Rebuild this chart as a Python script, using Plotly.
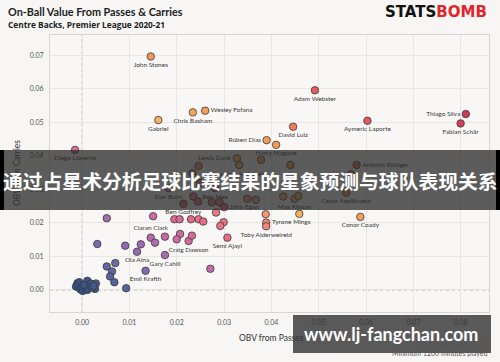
import plotly.graph_objects as go

# ---------------- data ----------------
players = [
    "John Stones", "Gabriel", "Diego Llorente", "Adam Webster", "Chris Basham",
    "Wesley Fofana", "David Luiz", "Rúben Dias", "Harry Maguire", "Lewis Dunk",
    "Aymeric Laporte", "Thiago Silva", "Fabian Schär", "Antonio Rüdiger",
    "Joachim Andersen", "Dan Burn", "Ben Mee", "César Azpilicueta", "Max Kilman",
    "John Egan", "Ben Godfrey", "Tyrone Mings", "Toby Alderweireld", "Conor Coady",
    "Ciaran Clark", "Craig Dawson", "Semi Ajayi", "Ola Aina", "Gary Cahill",
    "Emil Krafth",
    "", "", "", "", "", "", "", "", "", "",
    "", "", "", "", "", "", "", "", "", "",
    "", "", "", "", "", "", "", "", "", "",
    "", "", "", "", "", "", "", "", "", "",
    "", "", "", "", "", "", "", "", "", "",
    "", "", "", "", "", "",
]
obv_passes = [
    0.0145, 0.0161, -0.0015, 0.0492, 0.0234,
    0.0260, 0.0446, 0.0390, 0.0410, 0.0327,
    0.0603, 0.0811, 0.0800, 0.0580,
    0.0332, 0.0182, 0.0281, 0.0558, 0.0449,
    0.0300, 0.0214, 0.0389, 0.0389, 0.0588,
    0.0145, 0.0225, 0.0307, 0.0116, 0.0175,
    0.0134,
    0.0378, 0.0440, 0.0246, 0.0233, 0.0568, 0.0249, 0.0425, 0.0457, 0.0349, 0.0367,
    0.0274, 0.0290, 0.0235, 0.0245, 0.0283, 0.0195, 0.0206, 0.0230, 0.0246, 0.0256,
    0.0299, 0.0292, 0.0388, 0.0459, 0.0207, 0.0232, 0.0200, 0.0052, 0.0150, 0.0154,
    0.0175, 0.0032, 0.0091, 0.0124, 0.0052, 0.0070, 0.0063, 0.0059, 0.0068, 0.0093,
    0.0271, -0.0010, -0.0006, 0.0011, 0.0018, 0.0029, 0.0027, -0.0013, -0.0004, 0.0006,
    0.0015, 0.0001, 0.0011, 0.0021, 0.0004, 0.0024,
]
obv_carries = [
    0.0697, 0.0507, 0.0418, 0.0596, 0.0530,
    0.0535, 0.0487, 0.0447, 0.0433, 0.0393,
    0.0505, 0.0525, 0.0497, 0.0373,
    0.0373, 0.0304, 0.0304, 0.0290, 0.0272,
    0.0247, 0.0257, 0.0201, 0.0190, 0.0218,
    0.0156, 0.0146, 0.0156, 0.0114, 0.0104,
    0.0057,
    0.0388, 0.0373, 0.0370, 0.0348, 0.0345, 0.0319, 0.0279, 0.0281, 0.0272, 0.0269,
    0.0262, 0.0262, 0.0279, 0.0264, 0.0231, 0.0211, 0.0211, 0.0211, 0.0211, 0.0204,
    0.0202, 0.0191, 0.0226, 0.0227, 0.0167, 0.0162, 0.0151, 0.0214, 0.0220, 0.0141,
    0.0159, 0.0137, 0.0132, 0.0136, 0.0070, 0.0080, 0.0055, 0.0040, 0.0023, 0.0005,
    0.0063, 0.0020, 0.0023, 0.0027, 0.0019, 0.0019, 0.0003, 0.0010, 0.0002, 0.0005,
    0.0009, -0.0003, 0.0000, 0.0007, 0.0015, 0.0012,
]

x_ticks = [0.00, 0.01, 0.02, 0.03, 0.04, 0.05, 0.06, 0.07, 0.08]
y_ticks = [0.00, 0.01, 0.02, 0.03, 0.04, 0.05, 0.06, 0.07]

# ---------------- styles ----------------
label_side = {
    "Wesley Fofana": "middle right", "Rúben Dias": "middle left",
    "Lewis Dunk": "middle left", "Thiago Silva": "middle left",
    "Antonio Rüdiger": "middle right", "John Egan": "middle right",
    "Tyrone Mings": "middle right", "Ciaran Clark": "top center",
}
positions = [label_side.get(p, "bottom center") for p in players]
total = [a + b for a, b in zip(obv_passes, obv_carries)]

colorscale = [
    [0.00, "#34507f"], [0.10, "#6a6aa8"], [0.18, "#9c6cb0"], [0.25, "#cc6aa4"],
    [0.32, "#e56a8a"], [0.42, "#f2857a"], [0.48, "#f7b462"], [0.60, "#f29a58"],
    [0.70, "#ea6d58"], [0.78, "#e35a5c"], [1.00, "#cc2f5a"],
]

W, H = 500, 362
L, R, T, B = 50, 11, 35, 50
PW, PH = W - L - R, H - T - B


def px(x):
    return (x - L) / PW


def py(y):
    return (H - B - y) / PH


fig = go.Figure()
fig.add_trace(go.Scatter(
    x=obv_passes, y=obv_carries, mode="markers+text",
    text=players, textposition=positions,
    textfont=dict(family="Lato", size=6.5, color="#3a3a3a"),
    marker=dict(size=7.5, color=total, colorscale=colorscale, cmin=0, cmax=0.14,
                line=dict(color="#3a3a3a", width=0.8)),
    cliponaxis=False, hoverinfo="skip", showlegend=False,
))

axis_common = dict(
    showgrid=True, gridcolor="#e6e6e4", gridwidth=1,
    showline=True, mirror=True, linecolor="#d6d6d4", linewidth=1,
    zeroline=False, tickformat=".2f",
    tickfont=dict(family="Lato", size=7, color="#555555"),
    ticks="outside", tickcolor="rgba(0,0,0,0)", ticklen=4,
    automargin=False,
)
fig.update_xaxes(range=[-0.0068, 0.086], tickvals=x_ticks, **axis_common)
fig.update_yaxes(range=[-0.0066, 0.0761], tickvals=y_ticks, **axis_common)

shapes = [
    dict(type="line", xref="x", yref="paper", x0=0, x1=0, y0=0, y1=1,
         line=dict(color="#999999", width=1, dash="dot"), layer="below"),
    dict(type="line", xref="paper", yref="y", x0=0, x1=1, y0=0, y1=0,
         line=dict(color="#999999", width=1, dash="dot"), layer="below"),
    # banner
    dict(type="rect", xref="paper", yref="paper", x0=px(0), x1=px(500),
         y0=py(210), y1=py(150), fillcolor="rgba(40,40,40,0.75)",
         line=dict(width=0), layer="above"),
    dict(type="rect", xref="paper", yref="paper", x0=px(0), x1=px(4),
         y0=py(210), y1=py(150), fillcolor="#000000", line=dict(width=0), layer="above"),
    dict(type="rect", xref="paper", yref="paper", x0=px(496), x1=px(500),
         y0=py(210), y1=py(150), fillcolor="#000000", line=dict(width=0), layer="above"),
    # watermark box
    dict(type="rect", xref="paper", yref="paper", x0=px(293), x1=px(491),
         y0=py(353), y1=py(315), fillcolor="rgba(50,50,50,0.80)",
         line=dict(width=0), layer="above"),
]

ann = []


def add_text(text, x, y, size, color, family="Lato", xanchor="left", yanchor="middle",
             textangle=0):
    ann.append(dict(text=text, x=px(x), y=py(y), xref="paper", yref="paper",
                    xanchor=xanchor, yanchor=yanchor, showarrow=False,
                    textangle=textangle, font=dict(family=family, size=size, color=color)))


add_text("<b>On-Ball Value From Passes &amp; Carries</b>", 6, 11, 10.8, "#222222")
add_text("<b>Centre Backs, Premier League 2020-21</b>", 6, 25, 8.3, "#222222",
         family="Open Sans")
add_text("<b>STATS<span style='color:#e0262b'>BOMB</span></b>", 489, 12, 15, "#111111",
         family="DejaVu Sans", xanchor="right")
add_text("OBV from Passes", 271, 338, 8.5, "#333333", xanchor="center")
add_text("OBV from Carries", 17, 173, 8.5, "#333333", xanchor="center", textangle=-90)
add_text("Open play passes only", 489, 344, 7, "#555555", xanchor="right")
add_text("Minimum 1200 minutes played", 489, 353, 7, "#555555", xanchor="right")
add_text("<b>www.lj-fangchan.com</b>", 391, 334, 18, "#ffffff", family="Lato",
         xanchor="center")
add_text("<b>通过占星术分析足球比赛结果的星象预测与球队表现关系</b>", 250, 181, 19.8, "#ffffff",
         family="Noto Sans CJK SC", xanchor="center")

fig.update_layout(
    width=W, height=H, margin=dict(l=L, r=R, t=T, b=B, autoexpand=False),
    paper_bgcolor="#f7f6f4", plot_bgcolor="#f8f7f5",
    shapes=shapes, annotations=ann, showlegend=False,
)
fig.write_html("out.html", config={"displayModeBar": False},
               post_script="document.body.style.margin='0';"
                           "document.body.style.background='#f7f6f4';")
